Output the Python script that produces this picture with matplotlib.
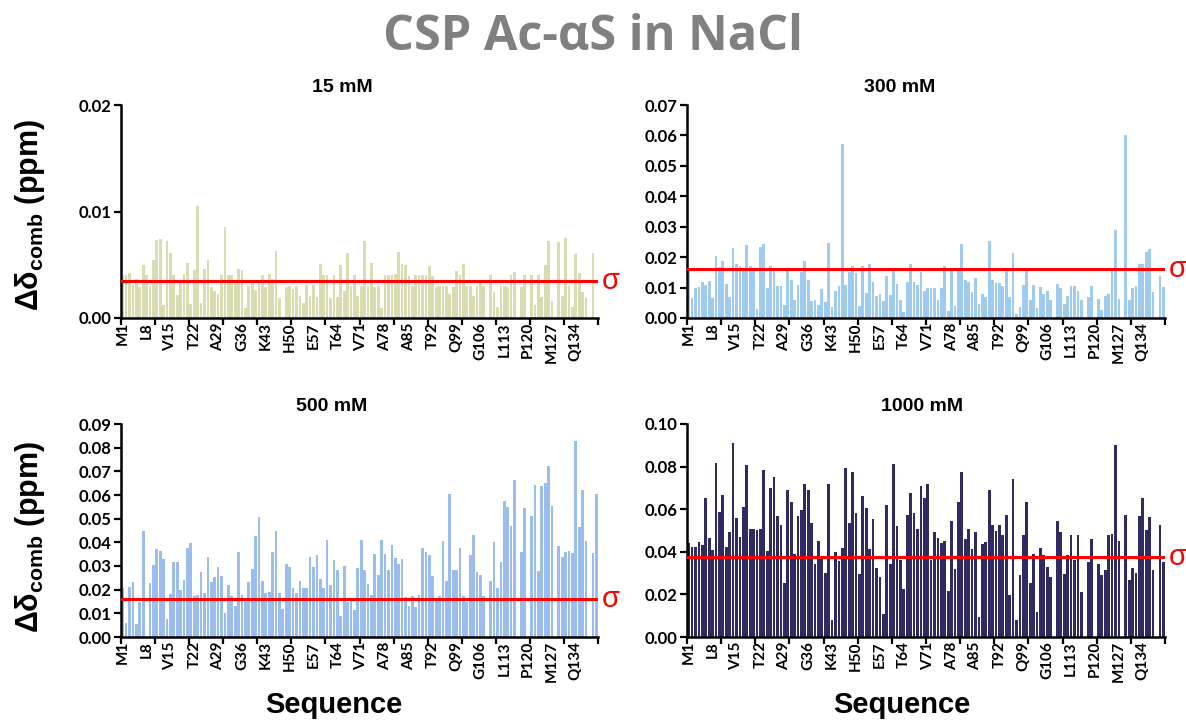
import numpy as np
import matplotlib
matplotlib.use("Agg")
import matplotlib.pyplot as plt
from matplotlib.ticker import FormatStrFormatter

plt.rcParams['font.family'] = ['Liberation Sans', 'DejaVu Sans']
plt.rcParams['mathtext.fontset'] = 'custom'
plt.rcParams['mathtext.rm'] = 'Liberation Sans'
plt.rcParams['mathtext.bf'] = 'Liberation Sans:bold'

# residue numbers 1..140, tick labels every 7th residue
residues = np.arange(1, 141)
tick_pos = [1, 8, 15, 22, 29, 36, 43, 50, 57, 64, 71, 78, 85, 92, 99, 106, 113, 120, 127, 134]
tick_labels = ["M1", "L8", "V15", "T22", "A29", "G36", "K43", "H50", "E57", "T64",
               "V71", "A78", "A85", "T92", "Q99", "G106", "L113", "P120", "M127", "Q134"]

# CSP values (ppm), 0 = no data (prolines etc.)
csp_15 = [0.0040, 0.0040, 0.0042, 0.0031, 0.0037, 0.0029, 0.0050, 0.0040, 0.0030, 0.0054,
          0.0073, 0.0074, 0.0012, 0.0072, 0.0061, 0.0040, 0.0022, 0.0034, 0.0041, 0.0052,
          0.0013, 0.0045, 0.0105, 0.0014, 0.0046, 0.0054, 0.0029, 0.0025, 0.0023, 0.0040,
          0.0085, 0.0040, 0.0040, 0.0035, 0.0046, 0.0045, 0.0009, 0.0030, 0.0036, 0.0026,
          0.0033, 0.0040, 0.0029, 0.0041, 0.0037, 0.0063, 0.0019, 0.0, 0.0029, 0.0030,
          0.0027, 0.0030, 0.0021, 0.0014, 0.0031, 0.0021, 0.0031, 0.0020, 0.0051, 0.0040,
          0.0040, 0.0019, 0.0040, 0.0020, 0.0050, 0.0025, 0.0061, 0.0030, 0.0040, 0.0021,
          0.0030, 0.0072, 0.0030, 0.0052, 0.0029, 0.0030, 0.0009, 0.0040, 0.0040, 0.0040,
          0.0041, 0.0062, 0.0051, 0.0050, 0.0039, 0.0030, 0.0040, 0.0040, 0.0040, 0.0040,
          0.0049, 0.0039, 0.0029, 0.0030, 0.0030, 0.0030, 0.0023, 0.0029, 0.0044, 0.0040,
          0.0051, 0.0030, 0.0030, 0.0021, 0.0030, 0.0035, 0.0030, 0.0, 0.0040, 0.0024,
          0.0010, 0.0030, 0.0030, 0.0029, 0.0040, 0.0043, 0.0, 0.0029, 0.0040, 0.0,
          0.0040, 0.0012, 0.0040, 0.0020, 0.0050, 0.0072, 0.0016, 0.0, 0.0071, 0.0021,
          0.0075, 0.0030, 0.0010, 0.0060, 0.0042, 0.0024, 0.0019, 0.0, 0.0061, 0.0]

csp_300 = [0.0153, 0.0066, 0.0098, 0.0102, 0.0118, 0.0109, 0.0120, 0.0066, 0.0205, 0.0166,
           0.0186, 0.0113, 0.0069, 0.0230, 0.0177, 0.0170, 0.0161, 0.0239, 0.0170, 0.0153,
           0.0030, 0.0233, 0.0244, 0.0098, 0.0172, 0.0159, 0.0106, 0.0104, 0.0044, 0.0156,
           0.0124, 0.0058, 0.0109, 0.0150, 0.0188, 0.0126, 0.0055, 0.0058, 0.0044, 0.0095,
           0.0053, 0.0248, 0.0037, 0.0090, 0.0104, 0.0572, 0.0109, 0.0150, 0.0170, 0.0148,
           0.0040, 0.0172, 0.0082, 0.0178, 0.0119, 0.0073, 0.0079, 0.0055, 0.0139, 0.0077,
           0.0155, 0.0113, 0.0058, 0.0019, 0.0117, 0.0178, 0.0119, 0.0107, 0.0152, 0.0090,
           0.0098, 0.0098, 0.0098, 0.0060, 0.0098, 0.0170, 0.0024, 0.0156, 0.0038, 0.0156,
           0.0244, 0.0124, 0.0118, 0.0084, 0.0132, 0.0046, 0.0079, 0.0068, 0.0253, 0.0124,
           0.0115, 0.0115, 0.0104, 0.0156, 0.0070, 0.0213, 0.0014, 0.0037, 0.0109, 0.0156,
           0.0058, 0.0109, 0.0033, 0.0101, 0.0079, 0.0090, 0.0060, 0.0, 0.0113, 0.0098,
           0.0047, 0.0071, 0.0104, 0.0106, 0.0088, 0.0058, 0.0, 0.0070, 0.0104, 0.0,
           0.0063, 0.0027, 0.0073, 0.0080, 0.0159, 0.0290, 0.0063, 0.0, 0.0600, 0.0058,
           0.0098, 0.0106, 0.0178, 0.0178, 0.0218, 0.0226, 0.0084, 0.0, 0.0139, 0.0102]

csp_500 = [0.0207, 0.0059, 0.0211, 0.0231, 0.0055, 0.0150, 0.0450, 0.0, 0.0229, 0.0305,
           0.0371, 0.0364, 0.0331, 0.0077, 0.0183, 0.0319, 0.0319, 0.0200, 0.0242, 0.0376,
           0.0397, 0.0174, 0.0179, 0.0274, 0.0184, 0.0338, 0.0233, 0.0253, 0.0297, 0.0259,
           0.0101, 0.0219, 0.0174, 0.0129, 0.0359, 0.0179, 0.0152, 0.0233, 0.0287, 0.0428,
           0.0508, 0.0238, 0.0188, 0.0191, 0.0360, 0.0450, 0.0188, 0.0120, 0.0309, 0.0294,
           0.0208, 0.0184, 0.0238, 0.0205, 0.0205, 0.0338, 0.0294, 0.0345, 0.0243, 0.0205,
           0.0409, 0.0218, 0.0326, 0.0283, 0.0087, 0.0302, 0.0148, 0.0153, 0.0113, 0.0290,
           0.0411, 0.0284, 0.0224, 0.0179, 0.0350, 0.0264, 0.0408, 0.0350, 0.0283, 0.0387,
           0.0335, 0.0307, 0.0329, 0.0169, 0.0132, 0.0173, 0.0128, 0.0179, 0.0374, 0.0360,
           0.0346, 0.0259, 0.0152, 0.0172, 0.0405, 0.0238, 0.0606, 0.0284, 0.0283, 0.0378,
           0.0174, 0.0148, 0.0346, 0.0430, 0.0276, 0.0262, 0.0174, 0.0, 0.0238, 0.0401,
           0.0208, 0.0319, 0.0574, 0.0550, 0.0470, 0.0662, 0.0, 0.0360, 0.0547, 0.0,
           0.0511, 0.0643, 0.0278, 0.0636, 0.0650, 0.0724, 0.0554, 0.0, 0.0385, 0.0339,
           0.0360, 0.0364, 0.0353, 0.0828, 0.0463, 0.0622, 0.0404, 0.0, 0.0356, 0.0605]

csp_1000 = [0.0442, 0.0424, 0.0422, 0.0447, 0.0431, 0.0651, 0.0463, 0.0407, 0.0815, 0.0586,
            0.0665, 0.0424, 0.0491, 0.0911, 0.0561, 0.0470, 0.0611, 0.0807, 0.0508, 0.0505,
            0.0503, 0.0509, 0.0782, 0.0403, 0.0701, 0.0749, 0.0567, 0.0528, 0.0255, 0.0692,
            0.0636, 0.0390, 0.0570, 0.0595, 0.0717, 0.0692, 0.0537, 0.0343, 0.0452, 0.0377,
            0.0301, 0.0717, 0.0078, 0.0399, 0.0358, 0.0416, 0.0794, 0.0533, 0.0773, 0.0583,
            0.0298, 0.0664, 0.0607, 0.0411, 0.0555, 0.0326, 0.0280, 0.0109, 0.0618, 0.0343,
            0.0810, 0.0522, 0.0361, 0.0227, 0.0575, 0.0676, 0.0583, 0.0505, 0.0709, 0.0651,
            0.0717, 0.0360, 0.0492, 0.0466, 0.0439, 0.0450, 0.0215, 0.0545, 0.0321, 0.0632,
            0.0773, 0.0461, 0.0509, 0.0414, 0.0495, 0.0093, 0.0435, 0.0447, 0.0692, 0.0528,
            0.0500, 0.0528, 0.0480, 0.0575, 0.0198, 0.0741, 0.0081, 0.0290, 0.0480, 0.0636,
            0.0255, 0.0389, 0.0117, 0.0419, 0.0386, 0.0329, 0.0280, 0.0, 0.0545, 0.0495,
            0.0296, 0.0386, 0.0480, 0.0361, 0.0480, 0.0209, 0.0, 0.0350, 0.0458, 0.0,
            0.0341, 0.0293, 0.0313, 0.0480, 0.0484, 0.0903, 0.0450, 0.0, 0.0575, 0.0268,
            0.0326, 0.0301, 0.0570, 0.0651, 0.0502, 0.0565, 0.0313, 0.0, 0.0525, 0.0350]

panel_titles = ["15 mM", "300 mM", "500 mM", "1000 mM"]
sigmas = [0.0035, 0.0161, 0.0162, 0.0377]
ymax = [0.02, 0.07, 0.09, 0.10]
ystep = [0.01, 0.01, 0.01, 0.02]
colors = ["#D9DCB0", "#A0CBF0", "#9BBDEE", "#2F2B62"]
data = [csp_15, csp_300, csp_500, csp_1000]

W, H = 1186, 722
fig = plt.figure(figsize=(W / 100, H / 100), dpi=100)

# axes boxes in pixels: left, right, top, bottom
boxes = [(121, 598, 105, 318), (687, 1165, 105, 318),
         (121, 598, 424, 637), (687, 1165, 424, 637)]
title_xy = [(342, 88), (900, 88), (332, 407), (922, 407)]

for k in range(4):
    l, r, t, b = boxes[k]
    ax = fig.add_axes([l / W, 1 - b / H, (r - l) / W, (b - t) / H])
    ax.bar(residues, data[k], width=0.8, color=colors[k], linewidth=0)
    ax.axhline(sigmas[k], color="#FF0000", lw=2.2, zorder=3)
    ax.text(1.008, sigmas[k], "σ", color="#FF0000", fontsize=21,
            transform=ax.get_yaxis_transform(), va="center", ha="left")
    ax.set_xlim(0.5, 140.5)
    ax.set_ylim(0, ymax[k])
    ax.set_yticks(np.arange(0, ymax[k] + 1e-9, ystep[k]))
    ax.yaxis.set_major_formatter(FormatStrFormatter("%.2f"))
    ax.set_xticks(tick_pos)
    ax.set_xticklabels(tick_labels, rotation=90, fontsize=11, fontweight="bold",
                       family=["Lato", "DejaVu Sans"])
    ax.set_xticks(np.arange(0.5, 141, 10), minor=True)
    ax.tick_params(axis="x", which="major", length=0, pad=3)
    ax.tick_params(axis="x", which="minor", length=5, width=1.6)
    ax.tick_params(axis="y", length=5, width=1.6, pad=2)
    for lab in ax.get_yticklabels():
        lab.set_fontsize(12)
        lab.set_fontweight("bold")
        lab.set_family(["Lato", "DejaVu Sans"])
    for s in ["top", "right"]:
        ax.spines[s].set_visible(False)
    for s in ["left", "bottom"]:
        ax.spines[s].set_linewidth(1.8)
    fig.text(title_xy[k][0] / W, 1 - title_xy[k][1] / H, panel_titles[k],
             fontsize=14, fontweight="bold", ha="center", va="center")

for yc in [215, 537]:
    fig.text(30 / W, 1 - yc / H, r"Δδ$_{\mathbf{comb}}$ (ppm)", rotation=90,
             fontsize=22, fontweight="bold", ha="center", va="center")

for xc in [334, 902]:
    fig.text(xc / W, 1 - 705 / H, "Sequence", fontsize=21, fontweight="bold",
             ha="center", va="center")

fig.text(593 / W, 1 - 37 / H, "CSP Ac-αS in NaCl", fontsize=35, fontweight="bold",
         color="#808080", ha="center", va="center", family=["Open Sans", "DejaVu Sans"])

fig.savefig("out.png", dpi=100)
